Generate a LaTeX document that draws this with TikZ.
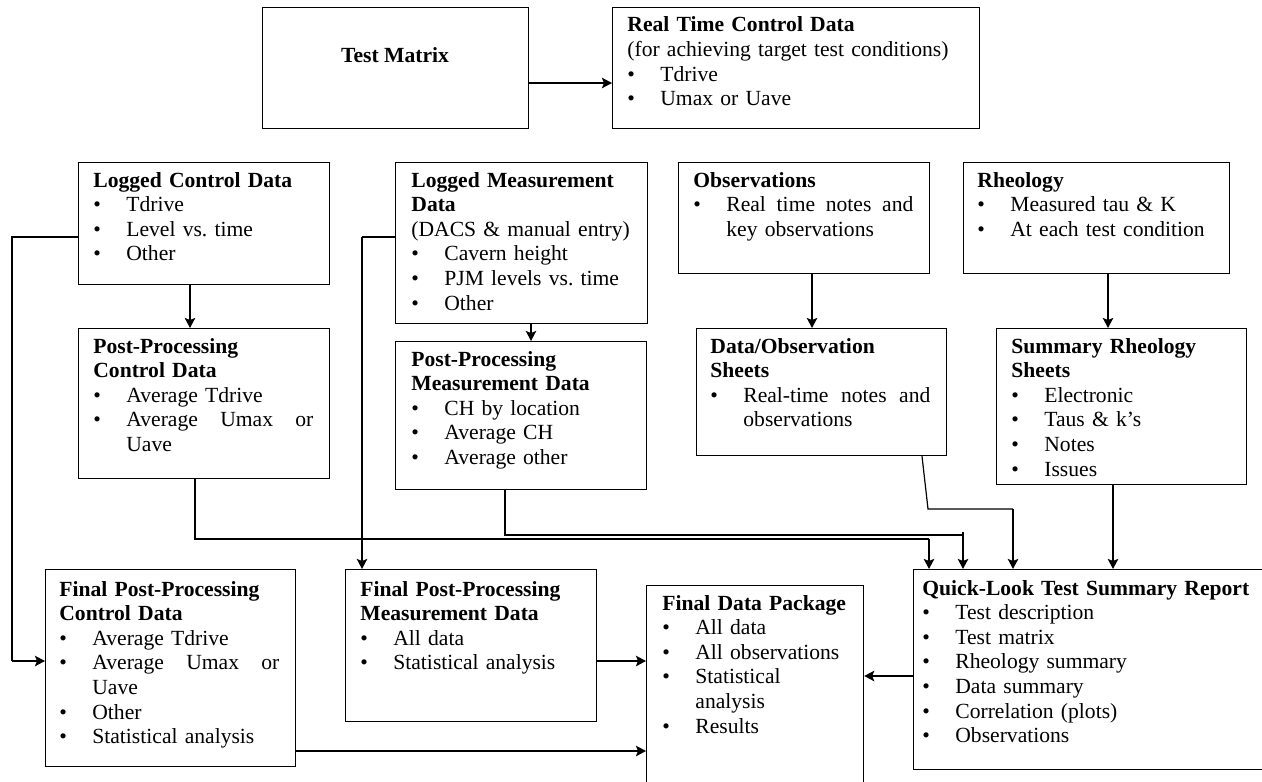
\documentclass[tikz,border=0pt]{standalone}
\usepackage{fontspec}
\setmainfont{Liberation Serif}
\usetikzlibrary{arrows.meta}
\newcommand{\bull}{\par\noindent\hangindent=16.5pt\hangafter=1\makebox[16.5pt][l]{\textbullet}}
\tikzset{
    box/.style={draw, rectangle, line width=0.6pt, inner sep=0pt, anchor=north west},
    boxtext/.style={anchor=base west, inner sep=0pt, text width=110pt, align=left, font=\fontsize{10.8}{12.3}\selectfont},
    link/.style={line width=0.6pt},
    flow/.style={->, line width=1pt}
}
\begin{document}
\begin{tikzpicture}[x=0.5pt, y=-0.5pt, >={Stealth[length=5pt, width=5.2pt, inset=1pt]}]
        \useasboundingbox (0,0) rectangle (1262,781);

        % boxes
        \node[box, minimum width=133pt, minimum height=60.5pt] (tm) at (262,7) {};
        \node[box, minimum width=183.5pt, minimum height=60.5pt] (rtcd) at (612,7) {};
        \node[box, minimum width=125.5pt, minimum height=61pt] (lcd) at (78,162) {};
        \node[box, minimum width=126pt, minimum height=80.5pt] (lmd) at (395,162) {};
        \node[box, minimum width=125.5pt, minimum height=55.5pt] (obs) at (678,162) {};
        \node[box, minimum width=133pt, minimum height=55.5pt] (rheo) at (963,162) {};
        \node[box, minimum width=125.5pt, minimum height=75pt] (ppcd) at (78,328) {};
        \node[box, minimum width=125.5pt, minimum height=74pt] (ppmd) at (395,341) {};
        \node[box, minimum width=125pt, minimum height=63.5pt] (dos) at (696,328) {};
        \node[box, minimum width=125pt, minimum height=78pt] (srs) at (996,328) {};
        \node[box, minimum width=125pt, minimum height=98.5pt] (fpcd) at (45,569) {};
        \node[box, minimum width=125.5pt, minimum height=76pt] (fpmd) at (345,569) {};
        \node[box, minimum width=108.5pt, minimum height=100pt] (fdp) at (646,585) {};
        \node[box, minimum width=176pt, minimum height=100pt] (ql) at (913,569) {};

        % labels
        \node[boxtext, anchor=base, text width=, font=\fontsize{10.8}{12.3}\selectfont\bfseries] (tmtext) at (395,63) {Test Matrix};
        \node[boxtext, text width=170pt] (rtcdtext) at (627,32)
            {\textbf{Real Time Control Data}\\(for achieving target test conditions)\bull Tdrive\bull Umax or Uave\par};
        \node[boxtext] (lcdtext) at (93,187)
            {\textbf{Logged Control Data}\bull Tdrive\bull Level vs.\ time\bull Other\par};
        \node[boxtext, text width=120pt] (lmdtext) at (411,187)
            {\textbf{Logged Measurement}\\\textbf{Data}\\(DACS \& manual entry)\bull Cavern height\bull PJM levels vs.\ time\bull Other\par};
        \node[boxtext] (obstext) at (693,187)
            {\textbf{Observations}\bull Real\hfill time\hfill notes\hfill and\break key observations\par};
        \node[boxtext, text width=120pt] (rheotext) at (977,187)
            {\textbf{Rheology}\bull Measured tau \& K\bull At each test condition\par};
        \node[boxtext] (ppcdtext) at (93,353)
            {\textbf{Post-Processing}\\\textbf{Control Data}\bull Average Tdrive\bull Average\hfill Umax\hfill or\break Uave\par};
        \node[boxtext] (ppmdtext) at (411,366)
            {\textbf{Post-Processing}\\\textbf{Measurement Data}\bull CH by location\bull Average CH\bull Average other\par};
        \node[boxtext] (dostext) at (710,353)
            {\textbf{Data/Observation}\\\textbf{Sheets}\bull Real-time\hfill notes\hfill and\break observations\par};
        \node[boxtext] (srstext) at (1011,353)
            {\textbf{Summary Rheology}\\\textbf{Sheets}\bull Electronic\bull Taus \& k's\bull Notes\bull Issues\par};
        \node[boxtext] (fpcdtext) at (59,596)
            {\textbf{Final Post-Processing}\\\textbf{Control Data}\bull Average Tdrive\bull Average\hfill Umax\hfill or\break Uave\bull Other\bull Statistical analysis\par};
        \node[boxtext] (fpmdtext) at (360,596)
            {\textbf{Final Post-Processing}\\\textbf{Measurement Data}\bull All data\bull Statistical analysis\par};
        \node[boxtext, text width=95pt] (fdptext) at (662,610)
            {\textbf{Final Data Package}\bull All data\bull All observations\bull Statistical\break analysis\bull Results\par};
        \node[boxtext, text width=170pt] (qltext) at (922,595)
            {\textbf{Quick-Look Test Summary Report}\bull Test description\bull Test matrix\bull Rheology summary\bull Data summary\bull Correlation (plots)\bull Observations\par};

        % straight arrows
        \draw[flow] (tm.east |- 0,83) -- (rtcd.west |- 0,83);
        \draw[flow] (lcd.south -| 190,0) -- (ppcd.north -| 190,0);
        \draw[flow] (lmd.south -| 531,0) -- (ppmd.north -| 531,0);
        \draw[flow] (obs.south -| 812,0) -- (dos.north -| 812,0);
        \draw[flow] (rheo.south -| 1108,0) -- (srs.north -| 1108,0);
        \draw[flow] (srs.south -| 1113,0) -- (ql.north -| 1113,0);
        \draw[flow] (fpmd.east |- 0,661) -- (fdp.west |- 0,661);
        \draw[flow] (fpcd.east |- 0,751) -- (fdp.west |- 0,751);
        \draw[flow] (ql.west |- 0,676) -- (fdp.east |- 0,676);

        % bent lines
        \coordinate (lcdturn) at (12,661);
        \draw[link] (lcd.west |- 0,237) -| (lcdturn);
        \draw[flow] (lcdturn) -- (fpcd.west |- lcdturn);

        \coordinate (lmdturn) at (362,237);
        \draw[link] (lmd.west |- lmdturn) -- (lmdturn);
        \draw[flow] (lmdturn) -- (fpmd.north -| lmdturn);

        \coordinate (ppcdturn) at (929,539);
        \draw[link] (ppcd.south -| 195,0) |- (ppcdturn);
        \draw[flow] (ppcdturn) -- (ql.north -| ppcdturn);

        \coordinate (ppmdturn) at (963,535);
        \draw[link] (ppmd.south -| 505,0) |- (ppmdturn);
        \draw[flow] ([yshift=1.5pt]ppmdturn) -- (ql.north -| ppmdturn);

        \coordinate (doskink) at (928,509);
        \coordinate (dosturn) at (1013,509);
        \draw[link] (dos.south -| 922,0) -- (doskink) -- (dosturn);
        \draw[flow] (dosturn) -- (ql.north -| dosturn);
    \end{tikzpicture}
\end{document}
